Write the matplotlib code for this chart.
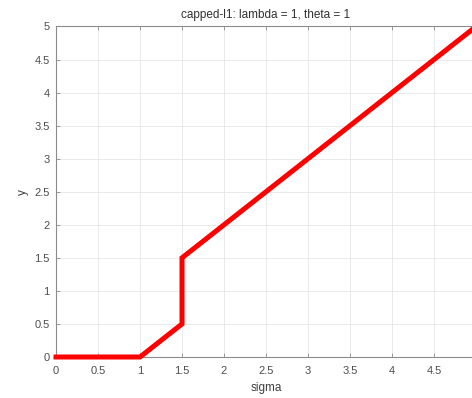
import matplotlib
matplotlib.use("Agg")
import matplotlib.pyplot as plt
import numpy as np

sigma = [0, 1, 1.5, 1.5, 5]
y = [0, 0, 0.5, 1.5, 5]
xticks = [0, 0.5, 1, 1.5, 2, 2.5, 3, 3.5, 4, 4.5, 5]
yticks = [0, 0.5, 1, 1.5, 2, 2.5, 3, 3.5, 4, 4.5, 5]
xticklabels = ["0", "0.5", "1", "1.5", "2", "2.5", "3", "3.5", "4", "4.5", "5"]
yticklabels = ["0", "0.5", "1", "1.5", "2", "2.5", "3", "3.5", "4", "4.5", "5"]

plt.rcParams['font.family'] = ['Liberation Sans', 'DejaVu Sans']

W, H = 472, 398
fig = plt.figure(figsize=(W / 100, H / 100), dpi=100)
ax = fig.add_axes([56 / W, (H - 357) / H, 420 / W, 330.5 / H])

ax.plot(sigma, y, color='#ff0000', linewidth=3.6, clip_on=False, zorder=5,
        solid_joinstyle='miter')
ax.set_xlim(0, 5)
ax.set_ylim(0, 5)
ax.set_xticks(xticks)
ax.set_xticklabels(xticklabels)
ax.set_yticks(yticks)
ax.set_yticklabels(yticklabels)

for s in ax.spines.values():
    s.set_color('#8c8c8c')
    s.set_linewidth(0.8)
ax.tick_params(direction='in', length=3, width=0.6, colors='#8c8c8c',
               labelcolor='#4d4d4d', labelsize=8, top=True, right=True)
ax.tick_params(axis='x', pad=6.5)
ax.tick_params(axis='y', pad=4.5)
ax.grid(True, color='#e6e6e6', linewidth=0.6)
ax.set_axisbelow(True)

ax.set_xlabel('sigma', fontsize=8.5, color='#404040', labelpad=4)
ax.set_ylabel('y', fontsize=8.5, color='#404040', labelpad=4)
ax.set_title('capped-l1: lambda = 1, theta = 1', fontsize=8.5, color='#303030', pad=6)

fig.savefig('out.png', dpi=100)
